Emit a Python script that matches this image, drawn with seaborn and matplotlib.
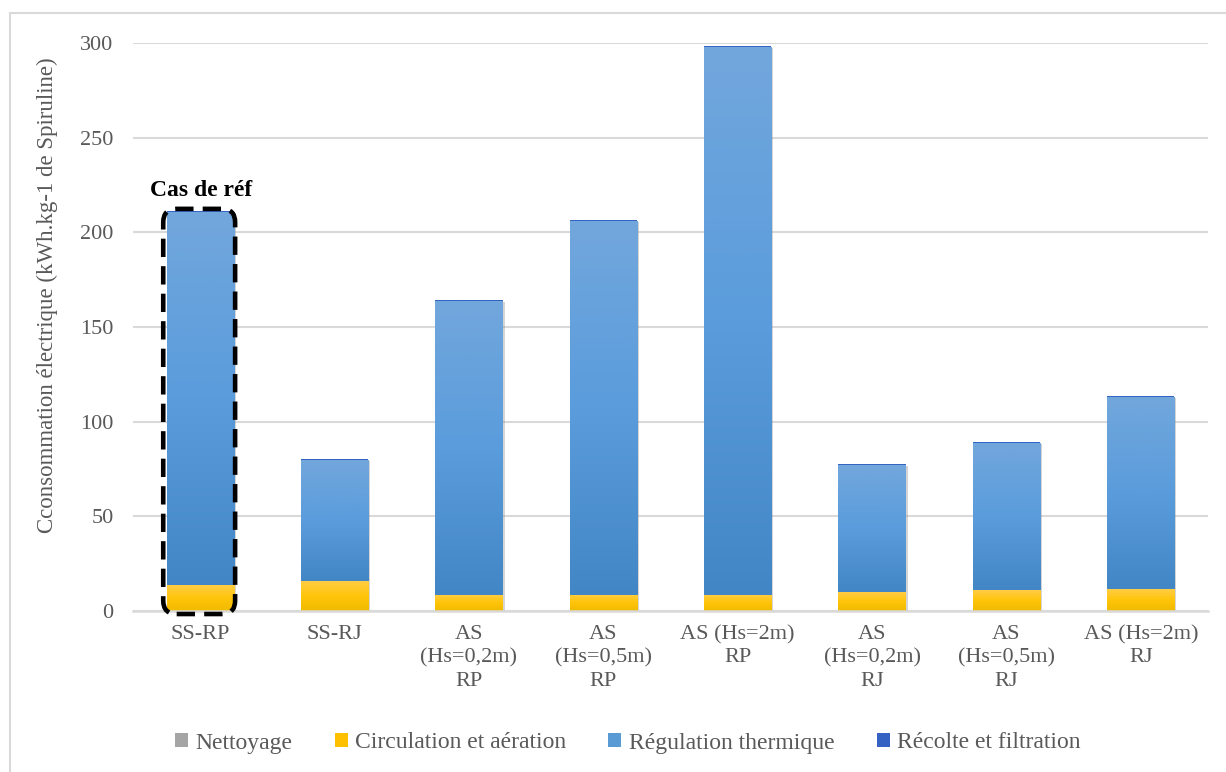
import matplotlib
matplotlib.use("Agg")
import numpy as np
import matplotlib.pyplot as plt
import seaborn as sns
from matplotlib.colors import LinearSegmentedColormap
from matplotlib.patches import FancyBboxPatch, Rectangle, Patch
from matplotlib import patheffects as pe

# données
categories = ["SS-RP", "SS-RJ", "AS\n(Hs=0,2m)\nRP", "AS\n(Hs=0,5m)\nRP",
              "AS (Hs=2m)\nRP", "AS\n(Hs=0,2m)\nRJ", "AS\n(Hs=0,5m)\nRJ", "AS (Hs=2m)\nRJ"]
nettoyage = [0.1, 0.1, 0.1, 0.1, 0.1, 0.1, 0.1, 0.1]
circulation = [13.7, 15.8, 8.5, 8.5, 8.5, 10.0, 11.0, 11.6]
regulation = [197.0, 63.7, 155.0, 197.5, 289.0, 67.0, 77.5, 101.4]
recolte = [0.6, 0.6, 0.6, 0.6, 0.6, 0.6, 0.6, 0.6]
series_names = ["Nettoyage", "Circulation et aération", "Régulation thermique", "Récolte et filtration"]

sns.set_style("white")
plt.rcParams["font.family"] = ["Liberation Serif", "DejaVu Serif"]
txt = "#595959"

fig = plt.figure(figsize=(12.26, 7.72), dpi=100)
ax = fig.add_axes([133 / 1226, 1 - 611 / 772, 1075 / 1226, 568 / 772])

# dégradés style Excel (bas sombre -> haut clair)
grads = [
    LinearSegmentedColormap.from_list("g", ["#8c8c8c", "#a5a5a5", "#bdbdbd"]),
    LinearSegmentedColormap.from_list("y", ["#efba00", "#ffc50a", "#ffcd45"]),
    LinearSegmentedColormap.from_list("b", ["#4386c5", "#5a9cdc", "#72a7dc"]),
    None,
]
solid = ["#a5a5a5", "#ffc000", "#5b9bd5", "#3563c4"]

bottom = np.zeros(len(categories))
images = []
for vals, col, cmap in zip([nettoyage, circulation, regulation, recolte], solid, grads):
    n0 = len(ax.patches)
    sns.barplot(x=categories, y=vals, bottom=bottom, color=col, saturation=1,
                width=0.5, errorbar=None, ax=ax, linewidth=0, zorder=2)
    for p in ax.patches[n0:]:
        p.set_path_effects([pe.SimplePatchShadow(offset=(1.5, -1.5), shadow_rgbFace="#888888", alpha=0.35),
                            pe.Normal()])
        if cmap is not None:
            x, y, w, h = p.get_x(), p.get_y(), p.get_width(), p.get_height()
            images.append((np.linspace(0, 1, 256).reshape(-1, 1), [x, x + w, y, y + h], cmap))
    bottom = bottom + np.array(vals)

for arr, ext, cmap in images:
    ax.imshow(arr, extent=ext, origin="lower", aspect="auto", cmap=cmap, zorder=2.5)

ax.set_xlim(-0.5, 7.5)
ax.set_ylim(0, 300)
ax.set_yticks(range(0, 301, 50))
ax.grid(axis="y", color="#d9d9d9", linewidth=1.5)
ax.set_axisbelow(True)
for s in ["top", "right", "left"]:
    ax.spines[s].set_visible(False)
ax.spines["bottom"].set_color("#d9d9d9")
ax.spines["bottom"].set_linewidth(1.8)
ax.tick_params(axis="y", length=0, pad=14, labelsize=16, labelcolor=txt)
ax.tick_params(axis="x", length=0, pad=10, labelsize=16, labelcolor=txt)
for lab in ax.get_xticklabels():
    lab.set_linespacing(1.3)
ax.set_ylabel("Cconsommation électrique (kWh.kg-1 de Spiruline)", fontsize=16.5, color=txt)
ax.yaxis.set_label_coords(-0.07, 0.556)
ax.set_xlabel("")

# cadre du cas de référence
box = FancyBboxPatch((-0.275, -1.6), 0.535, 214, boxstyle="round,pad=0,rounding_size=0.1",
                     mutation_aspect=71, fill=False, edgecolor="black", linewidth=3.3,
                     linestyle=(0, (4, 2)), clip_on=False, zorder=5)
ax.add_patch(box)
ax.text(0.01, 222, "Cas de réf", fontsize=17, fontweight="bold", ha="center", va="center", color="black")

handles = [Patch(facecolor=c, edgecolor="none") for c in solid]
fig.legend(handles, series_names, loc="center", bbox_to_anchor=(0.512, 1 - 743 / 772), ncol=4,
           frameon=False, fontsize=17, labelcolor=txt, handlelength=0.55, handleheight=0.55,
           handletextpad=0.3, columnspacing=1.8)

# bordure de la zone du graphique
fig.patches.append(Rectangle((10 / 1226, -0.05), 1.1, 1.05 - 13 / 772, transform=fig.transFigure,
                             fill=False, edgecolor="#d9d9d9", linewidth=1.5))

fig.savefig("out.png", dpi=100)
plt.close("all")
